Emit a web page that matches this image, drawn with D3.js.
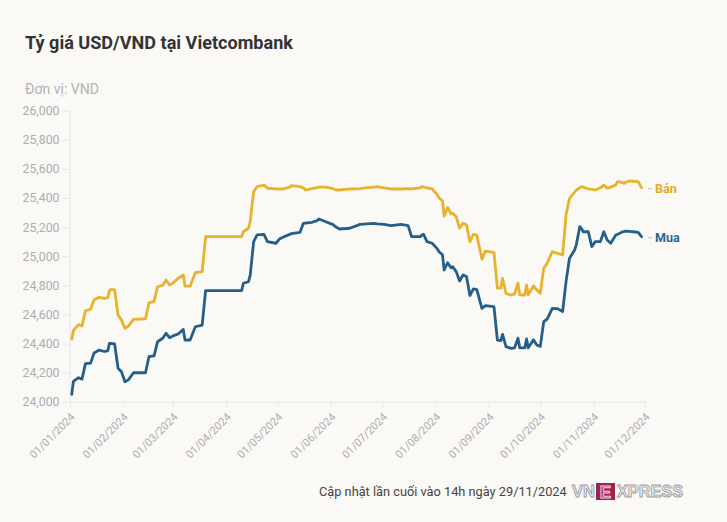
<!DOCTYPE html>
<html>
<head>
<meta charset="utf-8">
<script src="https://cdn.jsdelivr.net/npm/d3@7"></script>
<style>
  html, body { margin: 0; padding: 0; background: #faf9f6; }
  svg { display: block; }
</style>
</head>
<body>
<svg id="chart" width="727" height="522"></svg>
<script>
// ---------------- DATA ----------------
const titleText = "Tỷ giá USD/VND tại Vietcombank";
const unitText = "Đơn vị: VND";
const footerText = "Cập nhật lần cuối vào 14h ngày 29/11/2024";
const seriesNames = ["Bán", "Mua"];
const yTicks = [24000, 24200, 24400, 24600, 24800, 25000, 25200, 25400, 25600, 25800, 26000];
const xTickDates = ["2024-01-01","2024-02-01","2024-03-01","2024-04-01","2024-05-01","2024-06-01",
                    "2024-07-01","2024-08-01","2024-09-01","2024-10-01","2024-11-01","2024-12-01"];

const dates = [
"2024-01-02","2024-01-03","2024-01-06","2024-01-08","2024-01-10","2024-01-13","2024-01-15","2024-01-18","2024-01-21","2024-01-23","2024-01-24","2024-01-25","2024-01-27","2024-01-29","2024-01-31",
"2024-02-02","2024-02-04","2024-02-07","2024-02-14","2024-02-16","2024-02-19","2024-02-21","2024-02-24","2024-02-26","2024-02-28",
"2024-03-01","2024-03-04","2024-03-07","2024-03-08","2024-03-11","2024-03-14","2024-03-18","2024-03-20",
"2024-04-10","2024-04-11","2024-04-14","2024-04-15","2024-04-17","2024-04-19","2024-04-23","2024-04-25","2024-04-30",
"2024-05-02","2024-05-04","2024-05-08","2024-05-09","2024-05-14","2024-05-16","2024-05-17","2024-05-21","2024-05-24","2024-05-25","2024-05-29",
"2024-06-02","2024-06-04","2024-06-06","2024-06-12","2024-06-18","2024-06-22","2024-06-26","2024-06-28",
"2024-07-02","2024-07-06","2024-07-12","2024-07-16","2024-07-18","2024-07-23","2024-07-24","2024-07-25","2024-07-27","2024-07-30",
"2024-08-02","2024-08-03","2024-08-05","2024-08-06","2024-08-08","2024-08-10","2024-08-11","2024-08-13","2024-08-15","2024-08-17","2024-08-19","2024-08-21","2024-08-23","2024-08-25","2024-08-28","2024-08-30",
"2024-09-04","2024-09-06","2024-09-08","2024-09-09","2024-09-11","2024-09-14","2024-09-16","2024-09-18","2024-09-19","2024-09-22","2024-09-23","2024-09-24","2024-09-27","2024-09-29",
"2024-10-01","2024-10-03","2024-10-05","2024-10-08","2024-10-11","2024-10-14","2024-10-16","2024-10-18","2024-10-21","2024-10-22","2024-10-24","2024-10-25","2024-10-26","2024-10-29","2024-10-31",
"2024-11-02","2024-11-05","2024-11-07","2024-11-09","2024-11-11","2024-11-14","2024-11-15","2024-11-18","2024-11-19","2024-11-20","2024-11-22","2024-11-24","2024-11-27","2024-11-29"
];

const sellValues = [
24430,24490,24530,24520,24625,24635,24700,24717,24710,24715,24763,24772,24768,24596,24561,
24504,24520,24566,24570,24680,24690,24790,24800,24836,24802,
24815,24848,24871,24795,24795,24887,24894,25134,
25134,25168,25192,25240,25443,25478,25489,25467,25462,
25462,25462,25475,25485,25478,25470,25455,25465,25471,25475,25475,
25465,25455,25455,25462,25465,25471,25475,25478,
25470,25462,25462,25465,25462,25470,25478,25475,25470,25462,
25421,25400,25380,25275,25335,25290,25295,25271,25192,25226,25215,25100,25150,25145,24980,25035,
25027,24780,24780,24848,24745,24733,24740,24814,24735,24733,24802,24735,24795,24768,
24745,24917,24951,25031,25020,25008,25283,25398,25440,25455,25470,25478,25475,25462,25460,
25455,25470,25489,25467,25475,25490,25512,25505,25501,25510,25517,25515,25512,25471
];

const buyValues = [
24050,24140,24165,24155,24262,24265,24335,24355,24345,24350,24401,24400,24397,24230,24206,
24137,24150,24199,24199,24309,24315,24412,24436,24470,24440,
24452,24465,24497,24424,24424,24515,24527,24763,
24763,24814,24825,24870,25100,25146,25150,25100,25089,
25118,25130,25150,25155,25164,25226,25228,25233,25245,25256,25237,
25219,25200,25187,25192,25219,25222,25226,25222,
25219,25210,25219,25210,25134,25134,25145,25150,25100,25089,
25050,25031,25010,24905,24955,24920,24928,24894,24830,24871,24860,24730,24775,24770,24642,24660,
24653,24424,24420,24463,24378,24367,24370,24436,24370,24370,24431,24370,24425,24390,
24380,24550,24568,24642,24640,24619,24825,24986,25043,25080,25203,25190,25168,25168,25065,
25100,25100,25168,25111,25089,25146,25150,25168,25170,25173,25170,25168,25164,25134
];

// ---------------- CHART ----------------
const parse = d3.timeParse("%Y-%m-%d");
const svg = d3.select("#chart");
const W = 727, H = 522;
const C = { bg: "#faf9f6", sell: "#e8b22c", buy: "#245f8b", axis: "#e6e6e6", label: "#adadad" };

svg.append("rect").attr("width", W).attr("height", H).attr("fill", C.bg);

const x = d3.scaleTime().domain([parse("2024-01-01"), parse("2024-12-01")]).range([70, 645]);
const y = d3.scaleLinear().domain([24000, 26000]).range([401.7, 110.7]);

function fit(sel, target) {
  const n = sel.node();
  const fs = parseFloat(sel.attr("font-size"));
  const w = n.getComputedTextLength();
  if (w > 0) sel.attr("font-size", (fs * target / w).toFixed(2));
  return sel;
}

// Title
fit(svg.append("text").attr("x", 25).attr("y", 49)
  .attr("font-family", "Roboto, 'Noto Sans', sans-serif").attr("font-weight", 700)
  .attr("font-size", 18).attr("fill", "#333").text(titleText), 268);

// Unit
fit(svg.append("text").attr("x", 25).attr("y", 94)
  .attr("font-family", "Roboto, 'Noto Sans', sans-serif")
  .attr("font-size", 14).attr("fill", "#b3b3b3").text(unitText), 74);

// Y axis
const yAxis = svg.append("g").attr("transform", "translate(69.5,0)")
  .call(d3.axisLeft(y).tickValues(yTicks).tickFormat(d3.format(",")).tickSize(7).tickPadding(3).tickSizeOuter(0));
yAxis.select(".domain").attr("stroke", C.axis);
yAxis.selectAll(".tick line").attr("stroke", C.axis);
yAxis.selectAll(".tick text").attr("fill", C.label).attr("font-size", 12.3)
  .attr("font-family", "Roboto, 'Noto Sans', sans-serif");

// X axis
const xAxis = svg.append("g").attr("transform", "translate(0,401.7)")
  .call(d3.axisBottom(x).tickValues(xTickDates.map(parse)).tickFormat(d3.timeFormat("%d/%m/%Y")).tickSize(6).tickSizeOuter(0));
xAxis.select(".domain").attr("stroke", C.axis);
xAxis.selectAll(".tick line").attr("stroke", C.axis);
xAxis.selectAll(".tick text")
  .attr("fill", C.label).attr("font-size", 11)
  .attr("font-family", "Roboto, 'Noto Sans', sans-serif")
  .attr("text-anchor", "end")
  .attr("dy", null).attr("y", 0)
  .attr("transform", "translate(5,16) rotate(-45)");

// Lines
const rows = dates.map((d, i) => ({ date: parse(d), sell: sellValues[i], buy: buyValues[i] }));
const lineSell = d3.line().x(d => x(d.date)).y(d => y(d.sell));
const lineBuy = d3.line().x(d => x(d.date)).y(d => y(d.buy));

svg.append("path").datum(rows).attr("d", lineSell)
  .attr("fill", "none").attr("stroke", C.sell).attr("stroke-width", 2.8)
  .attr("stroke-linejoin", "round").attr("stroke-linecap", "round");
svg.append("path").datum(rows).attr("d", lineBuy)
  .attr("fill", "none").attr("stroke", C.buy).attr("stroke-width", 2.8)
  .attr("stroke-linejoin", "round").attr("stroke-linecap", "round");

// End labels
const last = rows[rows.length - 1];
const labels = [
  { name: seriesNames[0], v: last.sell, color: "#e3ab2a" },
  { name: seriesNames[1], v: last.buy, color: "#2a6592" }
];
labels.forEach(l => {
  const ly = y(l.v);
  svg.append("line").attr("x1", 648).attr("x2", 652).attr("y1", ly + 1).attr("y2", ly + 1)
    .attr("stroke", "#bbb").attr("stroke-width", 1);
  svg.append("text").attr("x", 655).attr("y", ly + 5)
    .attr("font-family", "Roboto, 'Noto Sans', sans-serif").attr("font-weight", 700)
    .attr("font-size", 12.5).attr("fill", l.color).text(l.name);
});

// Footer
fit(svg.append("text").attr("x", 319).attr("y", 496)
  .attr("font-family", "Roboto, 'Noto Sans', sans-serif")
  .attr("font-size", 14).attr("fill", "#444").text(footerText), 248);

// VnExpress logo
const logo = svg.append("g");
fit(logo.append("text").attr("x", 572).attr("y", 497)
  .attr("font-family", "'Liberation Sans', Arial, sans-serif").attr("font-weight", 700)
  .attr("font-size", 16).attr("fill", "#f3f3f3").attr("stroke", "#9c9c9c").attr("stroke-width", 0.9)
  .text("VN"), 23);
logo.append("rect").attr("x", 596).attr("y", 483).attr("width", 19).attr("height", 17).attr("fill", "#9f224e");
logo.append("text").attr("x", 605.5).attr("y", 497.5).attr("text-anchor", "middle")
  .attr("font-family", "'Liberation Sans', Arial, sans-serif").attr("font-weight", 700)
  .attr("font-size", 17).attr("fill", "#9f224e").attr("stroke", "#f6cfdc").attr("stroke-width", 1)
  .text("E");
fit(logo.append("text").attr("x", 617).attr("y", 497)
  .attr("font-family", "'Liberation Sans', Arial, sans-serif").attr("font-weight", 700)
  .attr("font-size", 16).attr("fill", "#f3f3f3").attr("stroke", "#9c9c9c").attr("stroke-width", 0.9)
  .text("XPRESS"), 66);
</script>
</body>
</html>
